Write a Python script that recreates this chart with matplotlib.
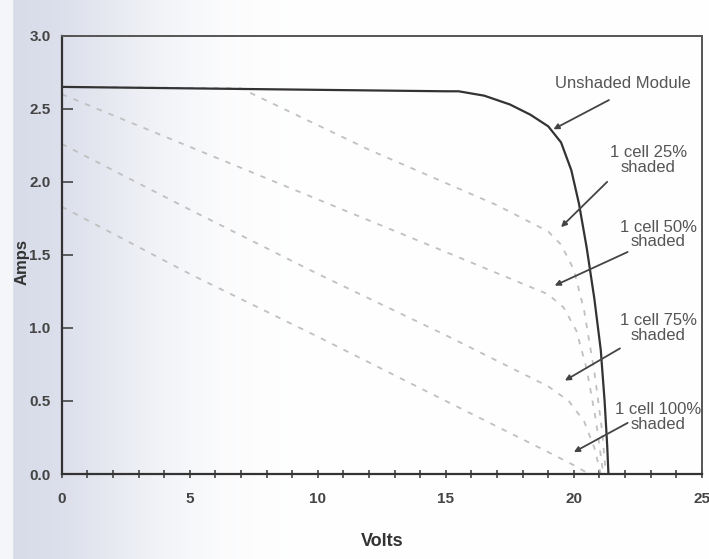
import numpy as np
import matplotlib
matplotlib.use('Agg')
import matplotlib.pyplot as plt


# Curves (volts, amps)
UNSHADED_V = [0, 5, 10, 15, 15.5, 16.5, 17.5, 18.3, 19.0, 19.5, 19.9, 20.2, 20.5,
              20.8, 21.05, 21.2, 21.3, 21.35]
UNSHADED_I = [2.65, 2.64, 2.63, 2.62, 2.62, 2.59, 2.53, 2.46, 2.38, 2.27, 2.08, 1.85,
              1.55, 1.2, 0.85, 0.5, 0.2, 0]

CELL25_V = [0, 7, 12, 17, 19, 19.5, 20, 20.4, 20.8, 21.1, 21.25]
CELL25_I = [2.65, 2.64, 2.22, 1.84, 1.66, 1.57, 1.4, 1.12, 0.7, 0.3, 0]

CELL50_V = [0, 5, 10, 15, 19, 19.6, 20.1, 20.5, 20.85, 21.15]
CELL50_I = [2.6, 2.24, 1.88, 1.52, 1.23, 1.14, 0.98, 0.72, 0.38, 0]

CELL75_V = [0, 5, 10, 15, 19, 19.8, 20.4, 20.8, 21.05]
CELL75_I = [2.26, 1.81, 1.37, 0.95, 0.6, 0.5, 0.36, 0.18, 0]

CELL100_V = [0, 5, 10, 15, 19, 20.0, 20.6]
CELL100_I = [1.83, 1.37, 0.94, 0.5, 0.15, 0.06, 0]

LABELS = ['Unshaded Module', '1 cell 25%\nshaded', '1 cell 50%\nshaded',
          '1 cell 75%\nshaded', '1 cell 100%\nshaded']

FONT = ['Liberation Sans', 'DejaVu Sans']

fig = plt.figure(figsize=(7.09, 5.59), dpi=100)

# scanned page shading on the left
bg = fig.add_axes([0, 0, 1, 1], zorder=-5)
xs = np.linspace(0, 1, 700)
shade = np.exp(-(np.clip(xs - 0.02, 0, None) / 0.2) ** 2)
shade[xs < 0.018] = 0.25
base = np.array([1.0, 1.0, 1.0])
tint = np.array([0.85, 0.865, 0.915])
img = base[None, :] * (1 - shade[:, None]) + tint[None, :] * shade[:, None]
bg.imshow(img[None, :, :], aspect='auto', extent=[0, 1, 0, 1], interpolation='bilinear')
bg.axis('off')

ax = fig.add_axes([0.087, 0.152, 0.903, 0.784])
ax.patch.set_alpha(0)

dash = dict(color='#c0c0c0', lw=1.3, dashes=(3, 4))
ax.plot(CELL25_V, CELL25_I, **dash)
ax.plot(CELL50_V, CELL50_I, **dash)
ax.plot(CELL75_V, CELL75_I, **dash)
ax.plot(CELL100_V, CELL100_I, **dash)
ax.plot(UNSHADED_V, UNSHADED_I, color='#333333', lw=1.6)

text_pos = [(21.9, 2.67), (22.9, 2.15), (23.3, 1.64), (23.3, 1.0), (23.3, 0.39)]
arrows = [((21.37, 2.56), (19.2, 2.36)),
          ((21.3, 2.0), (19.5, 1.69)),
          ((22.1, 1.52), (19.25, 1.29)),
          ((21.8, 0.86), (19.65, 0.64)),
          ((22.1, 0.35), (20.0, 0.15))]

for label, (tx, ty) in zip(LABELS, text_pos):
    ax.text(tx, ty, label, ha='center', va='center', fontsize=12,
            family=FONT, color='#555555', linespacing=0.95)

for start, end in arrows:
    ax.annotate('', xy=end, xytext=start,
                arrowprops=dict(arrowstyle='-|>', color='#444444', lw=1.3,
                                mutation_scale=8, shrinkA=0, shrinkB=0))

ax.set_xlim(0, 25)
ax.set_ylim(0, 3.0)
ax.set_xticks([0, 5, 10, 15, 20, 25])
ax.set_xticks(np.arange(0, 26, 1), minor=True)
ax.set_yticks(np.arange(0, 3.01, 0.5))
ax.set_yticklabels(['0.0', '0.5', '1.0', '1.5', '2.0', '2.5', '3.0'])

ax.tick_params(axis='y', direction='in', length=8, width=1.2, color='#444444',
               labelsize=11, labelcolor='#444444', pad=8)
ax.tick_params(axis='x', which='both', direction='inout', length=6, width=1.2,
               color='#444444', labelsize=11, labelcolor='#444444', pad=10)
for lab in ax.get_xticklabels() + ax.get_yticklabels():
    lab.set_family(FONT)
    lab.set_fontweight('bold')

for side in ['left', 'bottom']:
    ax.spines[side].set_color('#333333')
    ax.spines[side].set_linewidth(1.6)
for side in ['top', 'right']:
    ax.spines[side].set_color('#555555')
    ax.spines[side].set_linewidth(1.4)

ax.set_xlabel('Volts', fontsize=13, fontweight='bold', family=FONT, color='#333333')
ax.xaxis.set_label_coords(0.5, -0.135)
ax.set_ylabel('Amps', fontsize=12, fontweight='bold', family=FONT, color='#333333')
ax.yaxis.set_label_coords(-0.05, 0.484)

fig.savefig('out.png', dpi=100)
